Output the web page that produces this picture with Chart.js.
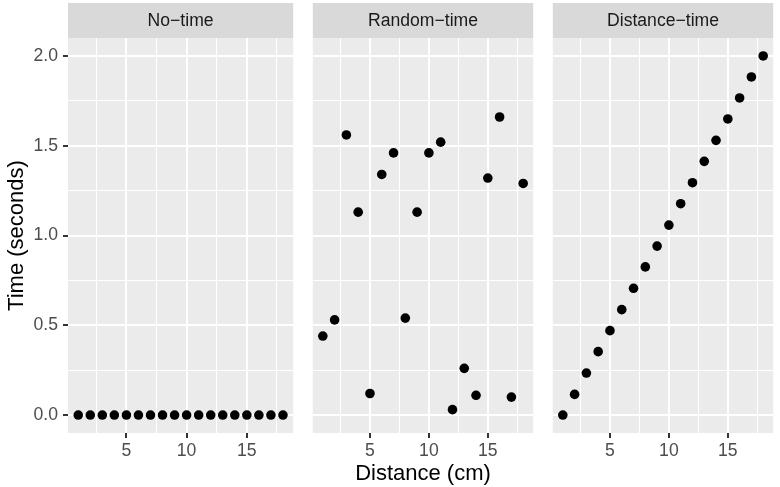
<!DOCTYPE html>
<html>
<head>
<meta charset="utf-8">
<script src="https://cdn.jsdelivr.net/npm/chart.js@4.4.0/dist/chart.umd.min.js"></script>
<style>
  html, body { margin: 0; padding: 0; background: #ffffff; }
  #wrap { position: relative; width: 780px; height: 487px; overflow: hidden; }
  #wrap canvas { position: absolute; top: 0; }
</style>
</head>
<body>
<div id="wrap">
  <canvas id="panel-0" width="298" height="487" style="left:0px"></canvas>
  <canvas id="panel-1" width="230" height="487" style="left:308px"></canvas>
  <canvas id="panel-2" width="230" height="487" style="left:548px"></canvas>
</div>
<script>
const facetNames = ['No\u2212time', 'Random\u2212time', 'Distance\u2212time'];
const distance = [1, 2, 3, 4, 5, 6, 7, 8, 9, 10, 11, 12, 13, 14, 15, 16, 17, 18];
const noTime = [0, 0, 0, 0, 0, 0, 0, 0, 0, 0, 0, 0, 0, 0, 0, 0, 0, 0];
const randomTime = [0.44, 0.53, 1.56, 1.13, 0.12, 1.34, 1.46, 0.54, 1.13, 1.46, 1.52, 0.03, 0.26, 0.11, 1.32, 1.66, 0.10, 1.29];
const distanceTime = [0, 0.115, 0.234, 0.353, 0.47, 0.587, 0.706, 0.825, 0.941, 1.058, 1.177, 1.294, 1.413, 1.53, 1.649, 1.766, 1.883, 2.0];
const xMajorTicks = [5, 10, 15];
const xMinorTicks = [2.5, 7.5, 12.5, 17.5];
const yMajorTicks = [0, 0.5, 1.0, 1.5, 2.0];
const yMinorTicks = [0.25, 0.75, 1.25, 1.75];

const seriesByFacet = [noTime, randomTime, distanceTime];

Chart.defaults.font.family = '"Liberation Sans", Arial, sans-serif';
Chart.defaults.animation = false;

// grey panel background + facet strip on top
const panelPlugin = {
  id: 'panelBg',
  beforeDraw(chart, args, opts) {
    const { ctx, chartArea: a } = chart;
    ctx.save();
    ctx.fillStyle = '#EBEBEB';
    ctx.fillRect(a.left, a.top, a.right - a.left, a.bottom - a.top);
    ctx.fillStyle = '#D9D9D9';
    ctx.fillRect(a.left, a.top - 35, a.right - a.left, 35);
    ctx.fillStyle = '#1A1A1A';
    ctx.font = '17.6px "Liberation Sans", Arial, sans-serif';
    ctx.textAlign = 'center';
    ctx.textBaseline = 'middle';
    ctx.fillText(opts.label, (a.left + a.right) / 2, a.top - 17);
    ctx.restore();
  }
};

function allTicks(major, minor) {
  return major.concat(minor).sort((a, b) => a - b).map(v => ({ value: v }));
}

function makePanel(i) {
  const isFirst = i === 0;
  const isMiddle = i === 1;
  const points = distance.map((d, k) => ({ x: d, y: seriesByFacet[i][k] }));

  return new Chart(document.getElementById('panel-' + i), {
    type: 'scatter',
    data: {
      datasets: [{
        data: points,
        backgroundColor: '#000000',
        borderColor: '#000000',
        borderWidth: 0,
        pointRadius: 4.8,
        pointHoverRadius: 4.8
      }]
    },
    options: {
      responsive: false,
      layout: { padding: { top: 38, left: 0, right: 0, bottom: 0 } },
      plugins: {
        legend: { display: false },
        tooltip: { enabled: false },
        panelBg: { label: facetNames[i] }
      },
      scales: {
        x: {
          type: 'linear',
          min: 0.15,
          max: 18.85,
          afterBuildTicks: s => { s.ticks = allTicks(xMajorTicks, xMinorTicks); },
          afterFit: s => { s.height = 54; },
          border: { display: false },
          grid: {
            color: '#FFFFFF',
            lineWidth: c => xMajorTicks.includes(c.tick && c.tick.value) ? 2 : 1,
            drawTicks: true,
            tickLength: 5,
            tickWidth: 2,
            tickColor: c => xMajorTicks.includes(c.tick && c.tick.value) ? '#333333' : 'rgba(0,0,0,0)'
          },
          ticks: {
            color: '#4D4D4D',
            font: { size: 17.6 },
            padding: 3,
            maxRotation: 0,
            autoSkip: false,
            callback: v => xMajorTicks.includes(v) ? String(v) : ''
          },
          title: {
            display: isMiddle,
            text: 'Distance (cm)',
            color: '#000000',
            font: { size: 22 },
            padding: { top: 0, bottom: 0 }
          }
        },
        y: {
          type: 'linear',
          min: -0.1,
          max: 2.1,
          afterBuildTicks: s => { s.ticks = allTicks(yMajorTicks, yMinorTicks); },
          afterFit: s => { s.width = isFirst ? 68 : 0; },
          border: { display: false },
          grid: {
            color: '#FFFFFF',
            lineWidth: c => yMajorTicks.includes(c.tick && c.tick.value) ? 2 : 1,
            drawTicks: isFirst,
            tickLength: 5,
            tickWidth: 2,
            tickColor: c => yMajorTicks.includes(c.tick && c.tick.value) ? '#333333' : 'rgba(0,0,0,0)'
          },
          ticks: {
            display: isFirst,
            color: '#4D4D4D',
            font: { size: 17.6 },
            padding: 5,
            autoSkip: false,
            callback: v => yMajorTicks.includes(v) ? v.toFixed(1) : ''
          },
          title: {
            display: isFirst,
            text: 'Time (seconds)',
            color: '#000000',
            font: { size: 22 },
            padding: { top: 4, bottom: 0 }
          }
        }
      }
    },
    plugins: [panelPlugin]
  });
}

document.addEventListener('DOMContentLoaded', () => {
  facetNames.forEach((name, i) => makePanel(i));
});
</script>
</body>
</html>
